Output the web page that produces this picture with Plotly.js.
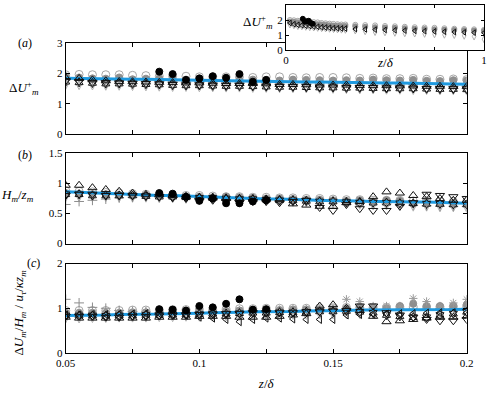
<!DOCTYPE html>
<html>
<head>
<meta charset="utf-8">
<script src="https://cdn.plot.ly/plotly-3.0.1.min.js"></script>
<style>body{margin:0;background:#fff}#chart{width:488px;height:393px}</style>
</head>
<body>
<div id="chart"></div>
<script>
// z/delta positions of the measurements
const zd = [0.05,0.055,0.06,0.065,0.07,0.075,0.08,0.085,0.09,0.095,0.1,0.105,0.11,0.115,0.12,0.125,0.13,0.135,0.14,0.145,0.15,0.155,0.16,0.165,0.17,0.175,0.18,0.185,0.19,0.195,0.2];
const zdBlack = [0.085,0.09,0.095,0.1,0.105,0.11,0.115,0.12,0.125];

// (a) delta U_m^+
const aOpen = [1.95,1.96,1.95,1.95,1.95,1.93,1.92,1.9,1.9,1.9,1.88,1.88,1.88,1.88,1.86,1.88,1.88,1.86,1.85,1.86,1.86,1.85,1.83,1.84,1.82,1.82,1.83,1.8,1.8,1.81,1.79];
const aGray = [1.9,1.86,1.83,1.82,1.86,1.8,1.82,1.83,1.8,1.79,1.8,1.8,1.78,1.78,1.79,1.78,1.76,1.79,1.78,1.77,1.76,1.77,1.76,1.79,1.77,1.76,1.78,1.75,1.74,1.77,1.76];
const aBlack = [2.05,1.97,1.78,1.83,1.9,1.85,1.97,1.72,1.78];
const aUp = [1.85,1.83,1.78,1.75,1.73,1.72,1.71,1.7,1.69,1.68,1.68,1.67,1.66,1.66,1.66,1.65,1.63,1.63,1.62,1.61,1.61,1.61,1.6,1.59,1.59,1.58,1.58,1.57,1.57,1.56,1.56];
const aDown = [1.76,1.73,1.7,1.69,1.68,1.67,1.66,1.65,1.63,1.62,1.62,1.61,1.6,1.6,1.58,1.58,1.57,1.56,1.56,1.55,1.55,1.54,1.53,1.53,1.52,1.52,1.51,1.5,1.5,1.49,1.49];
const aStar = [1.72,1.7,1.68,1.66,1.66,1.65,1.64,1.63,1.61,1.6,1.6,1.59,1.58,1.58,1.57,1.56,1.55,1.55,1.54,1.53,1.53,1.52,1.52,1.51,1.5,1.5,1.5,1.49,1.48,1.48,1.47];
const aDiam = [1.63,1.62,1.61,1.6,1.6,1.59,1.58,1.57,1.56,1.56,1.55,1.55,1.54,1.54,1.53,1.53,1.52,1.52,1.51,1.5,1.5,1.49,1.48,1.48,1.47,1.47,1.46,1.46,1.45,1.45,1.44];
const aPlus = [1.8,1.78,1.77,1.76,1.76,1.75,1.74,1.74,1.73,1.72,1.72,1.71,1.7,1.7,1.7,1.69,1.68,1.68,1.67,1.67,1.66,1.66,1.65,1.65,1.64,1.64,1.63,1.63,1.62,1.62,1.61];
const aFit = [1.83,1.82,1.82,1.81,1.81,1.8,1.8,1.8,1.79,1.78,1.77,1.76,1.75,1.74,1.73,1.73,1.72,1.72,1.71,1.71,1.7,1.7,1.69,1.69,1.68,1.68,1.67,1.67,1.66,1.65,1.64];

// (b) H_m / z_m
const bOpen = [0.88,0.87,0.86,0.85,0.84,0.83,0.82,0.82,0.81,0.8,0.8,0.79,0.78,0.78,0.77,0.77,0.76,0.76,0.75,0.75,0.74,0.73,0.73,0.72,0.72,0.72,0.71,0.71,0.7,0.7,0.7];
const bGray = [0.84,0.83,0.82,0.82,0.81,0.8,0.8,0.8,0.79,0.78,0.78,0.77,0.78,0.77,0.76,0.75,0.75,0.74,0.73,0.73,0.72,0.71,0.72,0.7,0.72,0.71,0.66,0.68,0.66,0.67,0.66];
const bBlack = [0.84,0.83,0.78,0.71,0.75,0.67,0.67,0.7,0.72];
const bUp = [0.97,0.97,0.93,0.9,0.87,0.84,0.82,0.81,0.8,0.78,0.77,0.76,0.75,0.75,0.74,0.74,0.73,0.66,0.64,0.62,0.62,0.68,0.7,0.78,0.86,0.84,0.8,0.78,0.75,0.72,0.72];
const bDown = [0.8,0.82,0.82,0.8,0.8,0.8,0.79,0.78,0.76,0.75,0.72,0.72,0.7,0.68,0.7,0.7,0.68,0.7,0.72,0.6,0.55,0.65,0.58,0.55,0.55,0.62,0.68,0.82,0.8,0.78,0.75];
const bStar = [0.82,0.82,0.8,0.8,0.8,0.8,0.79,0.78,0.78,0.77,0.76,0.76,0.75,0.74,0.74,0.73,0.72,0.72,0.71,0.7,0.7,0.69,0.68,0.68,0.68,0.67,0.67,0.66,0.66,0.65,0.65];
const bDiam = [0.78,0.78,0.78,0.78,0.77,0.77,0.77,0.76,0.76,0.75,0.74,0.74,0.73,0.72,0.72,0.71,0.7,0.7,0.69,0.68,0.67,0.66,0.65,0.64,0.64,0.63,0.62,0.62,0.61,0.61,0.6];
const bPlus = [0.65,0.7,0.72,0.74,0.76,0.77,0.78,0.78,0.77,0.77,0.76,0.76,0.75,0.74,0.74,0.73,0.72,0.72,0.71,0.7,0.7,0.69,0.68,0.68,0.66,0.65,0.64,0.63,0.62,0.62,0.62];
const bFit = [0.86,0.85,0.84,0.83,0.83,0.82,0.81,0.8,0.8,0.79,0.78,0.77,0.76,0.76,0.75,0.74,0.74,0.73,0.72,0.72,0.71,0.71,0.7,0.7,0.7,0.69,0.69,0.69,0.68,0.68,0.67];

// (c) ratio of the two scalings
const cOpen = [0.95,0.95,0.95,0.95,0.95,0.96,0.96,0.96,0.97,0.97,0.98,0.98,0.98,0.99,0.99,1.0,1.0,1.0,1.0,1.01,1.01,1.02,1.02,1.02,1.02,1.03,1.03,1.03,1.03,1.04,1.05];
const cGray = [0.9,0.9,0.9,0.9,0.9,0.91,0.91,0.92,0.92,0.93,0.93,0.94,0.94,0.95,0.95,0.96,0.96,0.97,0.97,0.98,0.98,1.0,1.02,1.0,1.0,1.05,1.1,1.05,1.05,1.05,1.08];
const cBlack = [0.98,0.97,0.95,1.05,1.02,1.1,1.2,0.97,0.98];
const cUp = [0.8,0.78,0.78,0.78,0.78,0.78,0.78,0.8,0.8,0.8,0.82,0.82,0.82,0.8,0.8,0.8,0.82,0.85,0.88,1.05,1.08,1.0,0.95,0.82,0.7,0.72,0.75,0.78,0.8,0.8,0.82];
const cDown = [0.82,0.82,0.82,0.8,0.8,0.82,0.82,0.83,0.84,0.85,0.86,0.87,0.88,0.88,0.9,0.9,0.9,0.9,0.92,0.92,0.94,0.95,1.05,1.05,0.9,0.85,0.8,0.75,0.72,0.72,0.75];
const cLeft = [0.85,0.85,0.86,0.86,0.87,0.87,0.88,0.88,0.86,0.85,0.8,0.78,0.75,0.7,0.75,0.78,0.78,0.76,0.75,0.75,0.75,0.85,0.86,0.87,0.87,0.88,0.88,0.89,0.9,0.9,0.9];
const cStar = [0.84,0.84,0.84,0.83,0.84,0.84,0.85,0.85,0.86,0.86,0.87,0.88,0.88,0.89,0.9,0.9,0.91,0.91,0.92,0.93,0.93,0.94,0.92,0.9,0.85,0.82,0.8,0.8,0.85,0.88,0.92];
const cDiam = [0.78,0.78,0.79,0.79,0.8,0.8,0.8,0.81,0.81,0.82,0.82,0.83,0.83,0.84,0.84,0.85,0.85,0.86,0.86,0.87,0.87,0.88,0.88,0.88,0.88,0.89,0.89,0.9,0.9,0.9,0.9];
const cPlus = [1.2,1.12,1.02,1.0,0.95,0.93,0.92,0.9,0.9,0.9,0.91,0.91,0.92,0.92,0.93,0.93,0.94,0.94,0.95,0.95,0.96,0.96,0.97,0.97,0.97,0.98,0.98,0.98,0.99,0.99,1.0];
const cAst = [0.9,0.9,0.9,0.9,0.9,0.92,0.92,0.93,0.93,0.94,0.94,0.95,0.95,0.96,0.96,0.97,0.97,0.98,0.98,0.99,1.0,1.2,1.15,1.05,1.05,1.05,1.22,1.15,1.05,1.12,1.2];
const cFit = [0.84,0.84,0.85,0.85,0.86,0.86,0.87,0.87,0.88,0.88,0.89,0.9,0.9,0.91,0.92,0.92,0.93,0.93,0.94,0.94,0.95,0.95,0.96,0.96,0.96,0.96,0.97,0.97,0.97,0.97,0.98];

// inset: whole layer
const insZd = [0.02,0.04,0.06,0.08,0.1,0.12,0.14,0.16,0.18,0.2,0.22,0.24,0.26,0.28,0.3,0.35,0.4,0.45,0.5,0.55,0.6,0.65,0.7,0.75,0.8,0.85,0.9,0.95,1.0];
const insOpen = [2.0,1.98,1.95,1.93,1.9,1.88,1.86,1.84,1.8,1.78,1.76,1.74,1.72,1.7,1.7,1.68,1.66,1.64,1.6,1.58,1.55,1.52,1.5,1.48,1.45,1.42,1.4,1.38,1.35];
const insGray = [1.9,1.88,1.85,1.82,1.8,1.78,1.75,1.72,1.7,1.68,1.65,1.63,1.62,1.6,1.6,1.58,1.55,1.52,1.5,1.48,1.45,1.42,1.4,1.38,1.36,1.34,1.32,1.3,1.28];
const insTri = [1.8,1.72,1.68,1.65,1.62,1.6,1.57,1.55,1.52,1.5,1.48,1.46,1.45,1.44,1.43,1.4,1.38,1.36,1.34,1.32,1.3,1.28,1.26,1.24,1.22,1.2,1.18,1.16,1.15];
const insDiam = [1.7,1.65,1.6,1.58,1.55,1.52,1.5,1.48,1.46,1.44,1.42,1.4,1.38,1.36,1.35,1.3,1.25,1.2,1.18,1.15,1.12,1.1,1.08,1.05,1.02,1.0,0.95,0.9,0.72];
const insBlackZd = [0.085,0.095,0.105,0.115,0.125,0.135];
const insBlack = [2.08,1.9,1.92,1.95,1.8,1.75];

const fitBlue = '#1f9ae0';

function pts(x, y, xa, ya, symbol, color, size) {
    return {
        x: x, y: y, xaxis: xa, yaxis: ya,
        type: 'scatter', mode: 'markers', showlegend: false, hoverinfo: 'skip',
        marker: {symbol: symbol, size: size || 7, color: color, line: {color: color, width: 1}}
    };
}

function fit(y, xa, ya) {
    return {
        x: zd, y: y, xaxis: xa, yaxis: ya,
        type: 'scatter', mode: 'lines', showlegend: false, hoverinfo: 'skip',
        line: {color: fitBlue, width: 3}
    };
}

function panel(xa, ya, s) {
    const list = [
        pts(zd, s.open, xa, ya, 'circle-open', '#a6a6a6', 8),
        pts(zd, s.diam, xa, ya, 'diamond-tall-open', '#b0b0b0'),
        pts(zd, s.plus, xa, ya, 'cross-thin-open', '#8c8c8c'),
        pts(zd, s.gray, xa, ya, 'circle', '#8f8f8f', 7)
    ];
    if (s.ast) list.push(pts(zd, s.ast, xa, ya, 'asterisk-open', '#9a9a9a'));
    list.push(fit(s.fit, xa, ya));
    list.push(pts(zd, s.up, xa, ya, 'triangle-up-open', '#111', 8));
    list.push(pts(zd, s.down, xa, ya, 'triangle-down-open', '#111', 8));
    list.push(pts(zd, s.star, xa, ya, 'hexagram-open', '#111', 7));
    if (s.left) list.push(pts(zd, s.left, xa, ya, 'triangle-left-open', '#111', 7));
    list.push(pts(zdBlack, s.black, xa, ya, 'circle', '#000', 7));
    return list;
}

const traces = [].concat(
    panel('x3', 'y3', {open: aOpen, gray: aGray, black: aBlack, up: aUp, down: aDown, star: aStar, diam: aDiam, plus: aPlus, fit: aFit}),
    panel('x2', 'y2', {open: bOpen, gray: bGray, black: bBlack, up: bUp, down: bDown, star: bStar, diam: bDiam, plus: bPlus, fit: bFit}),
    panel('x', 'y', {open: cOpen, gray: cGray, black: cBlack, up: cUp, down: cDown, star: cStar, diam: cDiam, plus: cPlus, ast: cAst, left: cLeft, fit: cFit}),
    [
        pts(insZd, insOpen, 'x4', 'y4', 'circle-open', '#a6a6a6', 5),
        pts(insZd, insDiam, 'x4', 'y4', 'diamond-tall-open', '#b0b0b0', 5),
        pts(insZd, insGray, 'x4', 'y4', 'circle', '#8f8f8f', 5),
        pts(insZd, insTri, 'x4', 'y4', 'triangle-left-open', '#111', 5),
        pts(insBlackZd, insBlack, 'x4', 'y4', 'circle', '#000', 5)
    ]
);

const serif = 'Liberation Serif, serif';
const font = {family: serif, size: 11, color: '#000'};
const xDom = [0.0134, 0.9547];

function xax(showLabels, anchor) {
    return {
        domain: xDom, range: [0.05, 0.2], anchor: anchor,
        tick0: 0.05, dtick: 0.05, showticklabels: showLabels,
        ticks: 'inside', ticklen: 4, tickcolor: '#000',
        minor: {tick0: 0.05, dtick: 0.025, ticks: 'inside', ticklen: 4, tickcolor: '#000', showgrid: false},
        showline: true, linecolor: '#000', linewidth: 1, mirror: 'ticks',
        showgrid: false, zeroline: false, tickfont: font
    };
}

function yax(dom, range, dtick, anchor) {
    return {
        domain: dom, range: range, dtick: dtick, anchor: anchor,
        ticks: 'inside', ticklen: 4, tickcolor: '#000',
        showline: true, linecolor: '#000', linewidth: 1, mirror: 'ticks',
        showgrid: false, zeroline: false, tickfont: font
    };
}

const xa1 = xax(true, 'y');
xa1.title = {text: '<i>z</i>/<i>δ</i>', font: {family: serif, size: 13}, standoff: 10};

const yInset = yax([0.8706, 1], [0, 3], 1, 'x4');
yInset.ticklen = 3;

const labFont = {family: serif, size: 12};
const ttlFont = {family: serif, size: 13};

function note(text, x, y, f, angle) {
    return {text: text, x: x, y: y, xref: 'paper', yref: 'paper', xanchor: 'center', yanchor: 'middle',
            showarrow: false, font: f, textangle: angle || 0};
}

const layout = {
    width: 488, height: 393,
    margin: {l: 60, r: 2, t: 5, b: 40.3},
    paper_bgcolor: '#fff', plot_bgcolor: '#fff',
    font: font,
    showlegend: false,
    xaxis: xa1,
    yaxis: yax([0, 0.2571], [0, 2], 1, 'x'),
    xaxis2: xax(false, 'y2'),
    yaxis2: yax([0.3146, 0.5735], [0, 1.5], 0.5, 'x2'),
    xaxis3: xax(false, 'y3'),
    yaxis3: yax([0.629, 0.8916], [0, 3], 1, 'x3'),
    xaxis4: {
        domain: [0.5305, 0.9953], range: [0, 1], anchor: 'y4',
        tick0: 0, dtick: 1,
        ticks: 'inside', ticklen: 3, tickcolor: '#000',
        minor: {dtick: 0.25, ticks: 'inside', ticklen: 3, tickcolor: '#000', showgrid: false},
        showline: true, linecolor: '#000', linewidth: 1, mirror: 'ticks',
        showgrid: false, zeroline: false, tickfont: font
    },
    yaxis4: yInset,
    annotations: [
        note('(<i>a</i>)', -0.082, 0.89, labFont),
        note('(<i>b</i>)', -0.082, 0.569, labFont),
        note('(<i>c</i>)', -0.063, 0.258, labFont),
        note('Δ<i>U</i><sup>+</sup><sub><i>m</i></sub>', -0.085, 0.761, ttlFont),
        note('<i>H<sub>m</sub></i>/<i>z<sub>m</sub></i>', -0.099, 0.454, ttlFont),
        note('Δ<i>U<sub>m</sub></i>/<i>H<sub>m</sub></i> / <i>u<sub>τ</sub></i>/<i>κz<sub>m</sub></i>', -0.094, 0.116, ttlFont, -90),
        note('Δ<i>U</i><sup>+</sup><sub><i>m</i></sub>', 0.465, 0.951, ttlFont),
        note('<i>z</i>/<i>δ</i>', 0.763, 0.836, ttlFont)
    ]
};

Plotly.newPlot('chart', traces, layout, {displayModeBar: false, staticPlot: true});
</script>
</body>
</html>
